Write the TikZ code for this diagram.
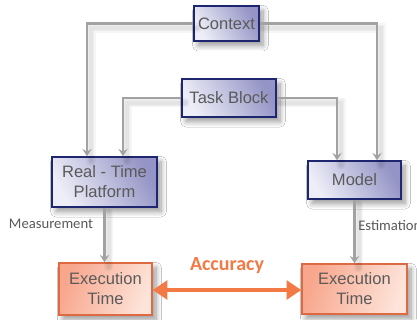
\documentclass[tikz,border=0pt]{standalone}
\usepackage{fontspec}
\setmainfont{Liberation Sans}
\newfontfamily\labelfont{Carlito}
\usetikzlibrary{arrows.meta,shadows.blur}

\definecolor{boxtext}{HTML}{5A5A5A}
\definecolor{bluelight}{HTML}{EEEEF8}
\definecolor{bluedark}{HTML}{9494C6}
\definecolor{blueedge}{HTML}{1E2670}
\definecolor{salmonlight}{HTML}{FDE4DA}
\definecolor{salmondark}{HTML}{F8A68C}
\definecolor{salmonedge}{HTML}{DD6A42}
\definecolor{linkgray}{HTML}{A2A2A2}
\definecolor{accorange}{HTML}{F37A45}

\tikzset{
  x=0.75pt, y=-0.75pt,
  softshadow/.style={blur shadow={shadow xshift=3pt, shadow yshift=-3.5pt,
      shadow blur radius=4pt, shadow blur steps=10}},
  bluebox/.style={draw=blueedge, line width=1.1pt, softshadow,
      left color=bluelight, right color=bluedark, shading angle=120,
      text=boxtext, font=\fontsize{12.4}{15}\selectfont, align=center,
      inner sep=0pt},
  timebox/.style={draw=salmonedge, line width=1.1pt, softshadow,
      left color=salmondark, right color=salmonlight, shading angle=70,
      text=boxtext, font=\fontsize{12.4}{15}\selectfont, align=center,
      inner sep=0pt},
  % faint blurred trail under a connector
  trail/.style={preaction={draw=black, draw opacity=0.035, line width=#1, arrows=-,
      line cap=round, transform canvas={shift={(3pt,-3.5pt)}}}},
  link/.style={draw=linkgray, line width=1.75pt,
      trail=7pt, trail=5pt, trail=3pt,
      -{Stealth[length=5.5pt, width=7pt, inset=2pt]}},
  sidelabel/.style={text=boxtext, font=\labelfont\fontsize{11}{13}\selectfont,
      inner sep=0pt},
  accarrow/.style={draw=accorange, line width=3.6pt,
      {Triangle[length=11pt, width=14pt]}-{Triangle[length=11pt, width=14pt]}},
}

\begin{document}
\begin{tikzpicture}
\useasboundingbox[fill=white] (0,0) rectangle (417,320);

% vertical routes of the connectors
\coordinate (colA) at (87,0);
\coordinate (colB) at (123,0);
\coordinate (colC) at (337,0);
\coordinate (colD) at (377,0);

% boxes
\node[bluebox, minimum width=48.75pt, minimum height=26.25pt] (ctx) at (226.5,23.5) {Context};
\node[bluebox, minimum width=70.5pt, minimum height=28.5pt] (task) at (229,98) {Task Block};
\node[bluebox, minimum width=78.75pt, minimum height=37.5pt] (rtp) at (104.5,182) {Real - Time\\Platform};
\node[bluebox, minimum width=69.75pt, minimum height=28.5pt] (model) at (354.5,180) {Model};
\node[timebox, minimum width=69.75pt, minimum height=39pt] (exl) at (105.5,289) {Execution\\Time};
\node[timebox, minimum width=78.75pt, minimum height=37.5pt] (exr) at (354.5,289) {Execution\\Time};

% connectors
\draw[link] (ctx.west) -| (colA |- rtp.north);
\draw[link] (task.west) -| (colB |- rtp.north);
\draw[link] (task.east) -| (colC |- model.north);
\draw[link] (ctx.east) -| (colD |- model.north);
\draw[link] (rtp.south) -- (rtp.south |- exl.north);
\draw[link] (model.south) -- (model.south |- exr.north);

% labels on the lower connectors
\node[sidelabel, anchor=center] (meas) at (51,224) {Measurement};
\node[sidelabel, anchor=west] (est) at (358,225) {Estimation};

% accuracy comparison
\draw[accarrow] (exl.east |- 0,290) -- (exr.west |- 0,290);
\node[text=accorange, font=\labelfont\bfseries\fontsize{15}{18}\selectfont] (acc) at (227,266) {Accuracy};
\end{tikzpicture}
\end{document}
